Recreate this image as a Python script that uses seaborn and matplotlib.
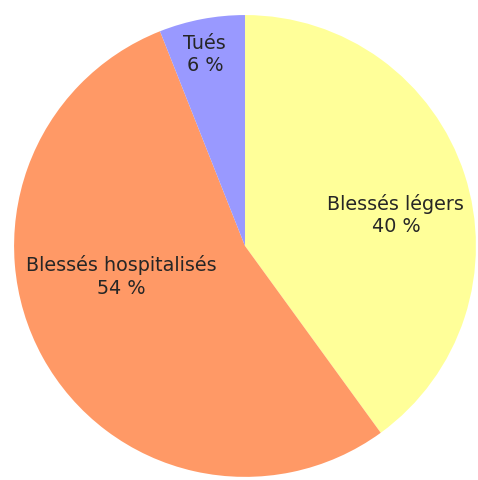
"""Pie chart: répartition des victimes (tués / hospitalisés / légers)."""

import matplotlib
matplotlib.use("Agg")
import matplotlib.pyplot as plt
import numpy as np
import seaborn as sns

categories = ["Blessés légers", "Blessés hospitalisés", "Tués"]
shares = [40, 54, 6]
colors = ["#ffff99", "#ff9966", "#9999ff"]

# label anchor as (distance from centre, angle in degrees)
label_polar = [(0.668, 12.0), (0.550, 193.6), (0.851, 101.8)]

sns.set_style("white")
plt.rcParams["font.family"] = ["DejaVu Sans"]

fig = plt.figure(figsize=(4.78, 4.81), dpi=100)
ax = fig.add_axes([0, 0, 1, 1])

ax.pie(
    shares,
    colors=colors,
    startangle=90,
    counterclock=False,
    radius=1.0,
    wedgeprops=dict(linewidth=0),
)

for name, pct, (r, ang) in zip(categories, shares, label_polar):
    x = r * np.cos(np.radians(ang))
    y = r * np.sin(np.radians(ang))
    ax.text(x, y, f"{name}\n{pct} %", ha="center", va="center",
            fontsize=13.8, color="#262626", linespacing=1.25)

ax.set_xlim(-1.061, 1.009)
ax.set_ylim(-1.013, 1.069)
ax.set_aspect("equal")
ax.axis("off")

fig.savefig("out.png", dpi=100)
plt.close(fig)
